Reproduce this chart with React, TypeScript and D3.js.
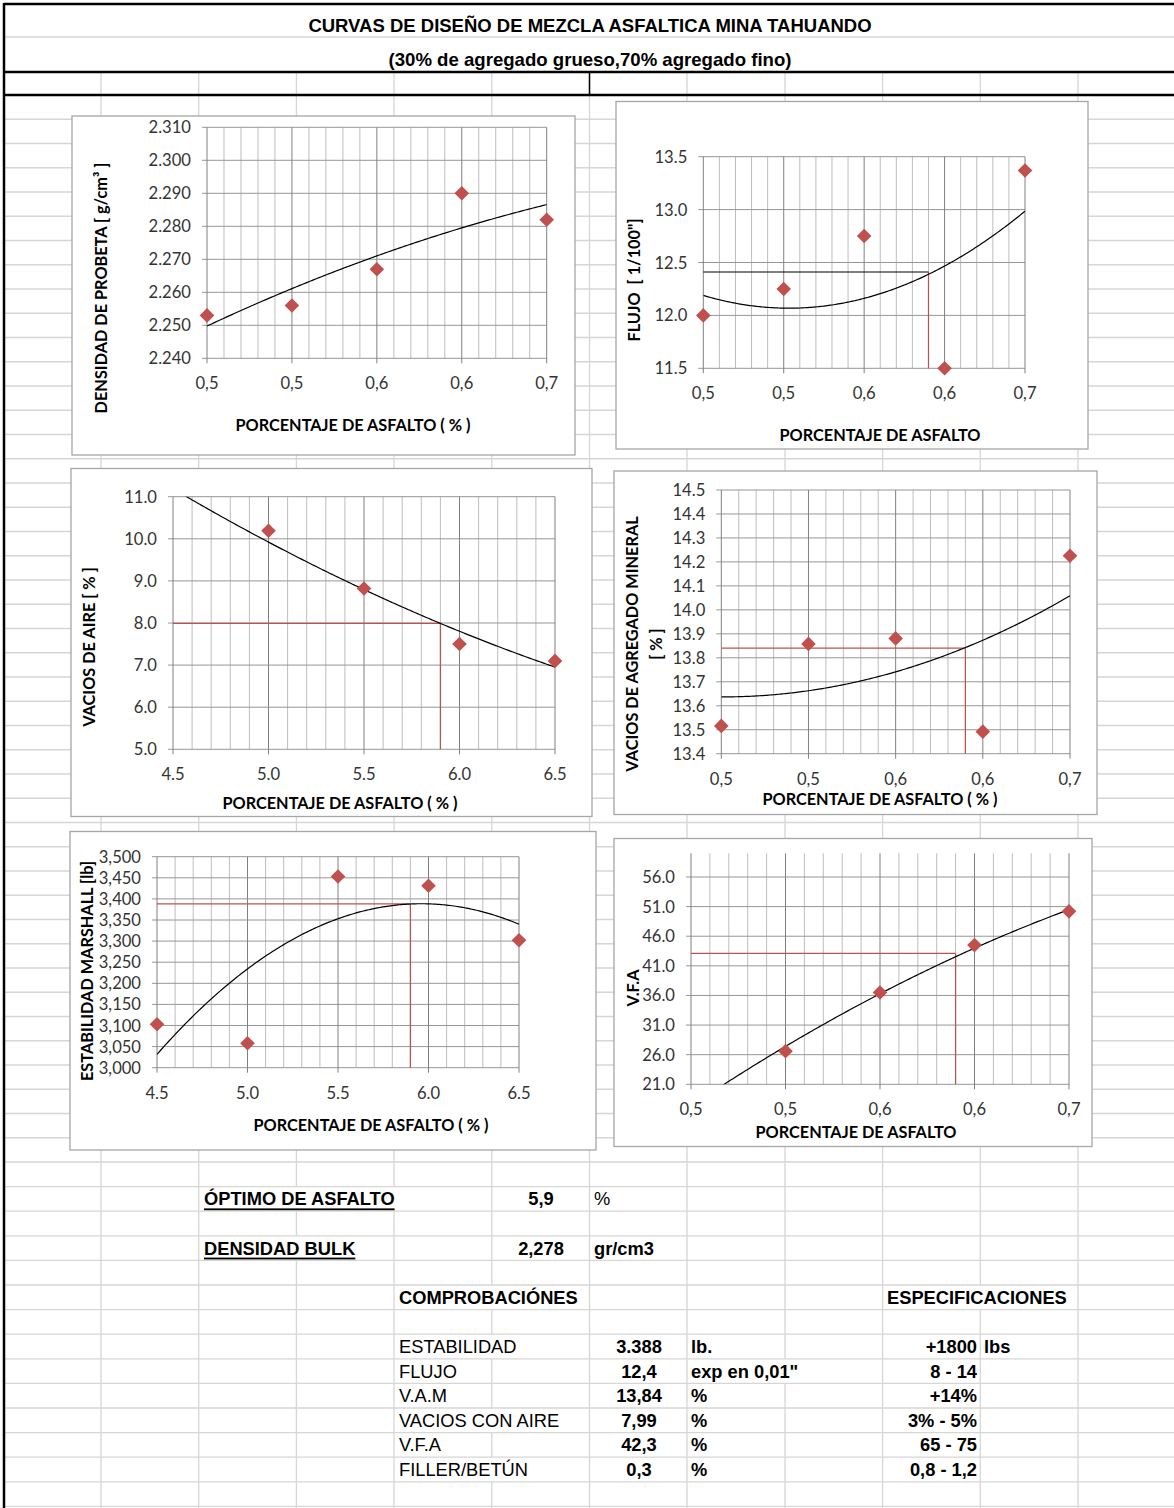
import React from "react";
import * as d3 from "d3";

// ---------- datos ----------
const asfalto = [4.5, 5.0, 5.5, 6.0, 6.5];
const asfaltoFrac = [0.45, 0.5, 0.55, 0.6, 0.65];
const asfaltoTickLabels = ["4.5", "5.0", "5.5", "6.0", "6.5"];
const fracTickLabels = ["0,5", "0,5", "0,6", "0,6", "0,7"];

const densidad = [2.253, 2.256, 2.267, 2.29, 2.282];
const flujo = [12.0, 12.25, 12.75, 11.5, 13.37];
const vaciosAire = [11.05, 10.19, 8.82, 7.5, 7.1]; // primer punto queda fuera del eje
const vam = [13.516, 13.858, 13.881, 13.492, 14.226];
const estabilidad = [3103, 3058, 3453, 3431, 3302];
const vfa = [17.7, 26.6, 36.5, 44.5, 50.2]; // primer punto queda fuera del eje

const densidadTicks = [2.24, 2.25, 2.26, 2.27, 2.28, 2.29, 2.3, 2.31];
const flujoTicks = [11.5, 12.0, 12.5, 13.0, 13.5];
const vaciosTicks = [5, 6, 7, 8, 9, 10, 11];
const vamTicks = [13.4, 13.5, 13.6, 13.7, 13.8, 13.9, 14.0, 14.1, 14.2, 14.3, 14.4, 14.5];
const estabilidadTicks = [3000, 3050, 3100, 3150, 3200, 3250, 3300, 3350, 3400, 3450, 3500];
const vfaTicks = [21, 26, 31, 36, 41, 46, 51, 56];

const optimo = 5.9;
const optimoFrac = 0.59;
const flujoOpt = 12.41;
const vaciosOpt = 7.99;
const vamOpt = 13.84;
const estabilidadOpt = 3388;
const vfaOpt = 43.1;

const compLabels = ["ESTABILIDAD", "FLUJO", "V.A.M", "VACIOS CON AIRE", "V.F.A", "FILLER/BETÚN"];
const compValues = ["3.388", "12,4", "13,84", "7,99", "42,3", "0,3"];
const compUnits = ["lb.", 'exp en 0,01"', "%", "%", "%", "%"];
const specValues = ["+1800", "8 - 14", "+14%", "3% - 5%", "65 - 75", "0,8 - 1,2"];

// ---------- utilidades ----------
const RED = "#C0504D";
const chartFont = "Lato, 'Open Sans', sans-serif";
const sheetFont = "'Liberation Sans', Arial, sans-serif";

// tendencia polinomica de orden 2 (minimos cuadrados), como la de Excel
function quadFit(xs: number[], ys: number[]) {
  const m = d3.mean(xs) as number;
  const u = xs.map((x) => x - m);
  const s = (k: number) => d3.sum(u, (v) => v ** k);
  const t = (k: number) => d3.sum(u, (v, i) => v ** k * ys[i]);
  const A = [
    [xs.length, s(1), s(2), t(0)],
    [s(1), s(2), s(3), t(1)],
    [s(2), s(3), s(4), t(2)],
  ];
  for (let i = 0; i < 3; i++) {
    for (let j = i + 1; j < 3; j++) {
      const f = A[j][i] / A[i][i];
      for (let k = i; k < 4; k++) A[j][k] -= f * A[i][k];
    }
  }
  const c = [0, 0, 0];
  for (let i = 2; i >= 0; i--) {
    let v = A[i][3];
    for (let k = i + 1; k < 3; k++) v -= A[i][k] * c[k];
    c[i] = v / A[i][i];
  }
  return (x: number) => c[0] + c[1] * (x - m) + c[2] * (x - m) ** 2;
}

type ChartSpec = {
  id: string;
  box: [number, number, number, number];
  plot: [number, number, number, number];
  xs: number[];
  xTickLabels: string[];
  ys: number[];
  yDomain: [number, number];
  yTicks: number[];
  yFormat: (v: number) => string;
  yTitle: string[];
  yTitleAt: [number, number];
  xTitle: string;
  xTitleAt: [number, number];
  opt?: { x: number; y: number; hColor: string };
};

function Chart({ spec }: { spec: ChartSpec }) {
  const [bx0, by0, bx1, by1] = spec.box;
  const [left, top, right, bottom] = spec.plot;
  const x = d3.scaleLinear().domain([spec.xs[0], spec.xs[spec.xs.length - 1]]).range([left, right]);
  const y = d3.scaleLinear().domain(spec.yDomain).range([bottom, top]);
  const step = (spec.xs[1] - spec.xs[0]) / 5;
  const subs = d3.range(0, (spec.xs.length - 1) * 5 + 1);
  const fit = quadFit(spec.xs, spec.ys);
  const curveX = d3.range(0, 201).map((i) => x.invert(left + ((right - left) * i) / 200));
  const line = d3
    .line<number>()
    .x((d) => x(d))
    .y((d) => y(fit(d)));
  const pts = spec.xs
    .map((xv, i) => ({ xv, yv: spec.ys[i] }))
    .filter((p) => p.yv >= spec.yDomain[0] && p.yv <= spec.yDomain[1]);

  return (
    <g>
      <rect x={bx0} y={by0} width={bx1 - bx0} height={by1 - by0} fill="#fff" stroke="#a6a6a6" strokeWidth={1.3} />
      <clipPath id={"clip-" + spec.id}>
        <rect x={left} y={top} width={right - left} height={bottom - top} />
      </clipPath>
      {/* rejilla menor */}
      {subs
        .filter((k) => k % 5 !== 0)
        .map((k) => (
          <line key={"m" + k} x1={x(spec.xs[0] + k * step)} x2={x(spec.xs[0] + k * step)} y1={top} y2={bottom} stroke="#bdbdbd" />
        ))}
      {spec.yTicks.map((t) => (
        <line key={"h" + t} x1={left - 5} x2={right} y1={y(t)} y2={y(t)} stroke="#969696" />
      ))}
      {spec.xs.map((xv) => (
        <line key={"v" + xv} x1={x(xv)} x2={x(xv)} y1={top} y2={bottom + 5} stroke="#808080" />
      ))}
      {/* etiquetas */}
      {spec.yTicks.map((t) => (
        <text key={"yt" + t} x={left - 16} y={y(t)} textAnchor="end" dominantBaseline="central" fontSize={16.6} fill="#333">
          {spec.yFormat(t)}
        </text>
      ))}
      {spec.xs.map((xv, i) => (
        <text key={"xt" + i} x={x(xv)} y={bottom + 25} textAnchor="middle" dominantBaseline="central" fontSize={16.6} fill="#333">
          {spec.xTickLabels[i]}
        </text>
      ))}
      {/* lineas del optimo */}
      {spec.opt && (
        <g>
          <line x1={x(spec.opt.x)} x2={x(spec.opt.x)} y1={y(spec.opt.y)} y2={bottom} stroke={RED} strokeWidth={1.2} />
          <line x1={left} x2={x(spec.opt.x)} y1={y(spec.opt.y)} y2={y(spec.opt.y)} stroke={spec.opt.hColor} strokeWidth={1.2} />
        </g>
      )}
      <path d={line(curveX) || ""} fill="none" stroke="#000" strokeWidth={1.2} clipPath={`url(#clip-${spec.id})`} />
      {pts.map((p, i) => (
        <path key={"p" + i} transform={`translate(${x(p.xv)},${y(p.yv)})`} d="M0,-7.3L7.3,0L0,7.3L-7.3,0Z" fill={RED} />
      ))}
      {spec.yTitle.map((ln, i) => (
        <text
          key={"ytl" + i}
          transform={`translate(${spec.yTitleAt[0] + i * 24},${spec.yTitleAt[1]}) rotate(-90)`}
          textAnchor="middle"
          dominantBaseline="central"
          fontSize={16.3}
          fontWeight="bold"
          style={{ whiteSpace: "pre" }}
        >
          {ln}
        </text>
      ))}
      <text x={spec.xTitleAt[0]} y={spec.xTitleAt[1]} textAnchor="middle" dominantBaseline="central" fontSize={16.3} fontWeight="bold">
        {spec.xTitle}
      </text>
    </g>
  );
}

const f1 = d3.format(".1f");

const charts: ChartSpec[] = [
  {
    id: "dens",
    box: [72, 116, 575, 455],
    plot: [207, 127.3, 546.7, 358.3],
    xs: asfaltoFrac,
    xTickLabels: fracTickLabels,
    ys: densidad,
    yDomain: [2.24, 2.31],
    yTicks: densidadTicks,
    yFormat: d3.format(".3f"),
    yTitle: ["DENSIDAD DE PROBETA [ g/cm³ ]"],
    yTitleAt: [100, 288],
    xTitle: "PORCENTAJE DE ASFALTO ( % )",
    xTitleAt: [353, 424],
  },
  {
    id: "flujo",
    box: [616, 101.5, 1088, 449],
    plot: [703.3, 156.7, 1025, 368.3],
    xs: asfaltoFrac,
    xTickLabels: fracTickLabels,
    ys: flujo,
    yDomain: [11.5, 13.5],
    yTicks: flujoTicks,
    yFormat: f1,
    yTitle: ['FLUJO  [ 1/100"]'],
    yTitleAt: [633, 280],
    xTitle: "PORCENTAJE DE ASFALTO",
    xTitleAt: [880, 434],
    opt: { x: optimoFrac, y: flujoOpt, hColor: "#000" },
  },
  {
    id: "vacios",
    box: [71, 468.5, 592, 816.5],
    plot: [173, 496.7, 555, 749.3],
    xs: asfalto,
    xTickLabels: asfaltoTickLabels,
    ys: vaciosAire,
    yDomain: [5, 11],
    yTicks: vaciosTicks,
    yFormat: f1,
    yTitle: ["VACIOS DE AIRE [ % ]"],
    yTitleAt: [88, 647],
    xTitle: "PORCENTAJE DE ASFALTO ( % )",
    xTitleAt: [340, 802],
    opt: { x: optimo, y: vaciosOpt, hColor: RED },
  },
  {
    id: "vam",
    box: [614, 471, 1097, 814.5],
    plot: [721.3, 490, 1070, 753.7],
    xs: asfaltoFrac,
    xTickLabels: fracTickLabels,
    ys: vam,
    yDomain: [13.4, 14.5],
    yTicks: vamTicks,
    yFormat: f1,
    yTitle: ["VACIOS DE AGREGADO MINERAL", "[ % ]"],
    yTitleAt: [631, 644],
    xTitle: "PORCENTAJE DE ASFALTO ( % )",
    xTitleAt: [880, 798],
    opt: { x: optimoFrac, y: vamOpt, hColor: RED },
  },
  {
    id: "estab",
    box: [70, 831.5, 596, 1150],
    plot: [157, 856.7, 519, 1067.7],
    xs: asfalto,
    xTickLabels: asfaltoTickLabels,
    ys: estabilidad,
    yDomain: [3000, 3500],
    yTicks: estabilidadTicks,
    yFormat: d3.format(","),
    yTitle: ["ESTABILIDAD MARSHALL [lb]"],
    yTitleAt: [86, 971],
    xTitle: "PORCENTAJE DE ASFALTO ( % )",
    xTitleAt: [371, 1124],
    opt: { x: optimo, y: estabilidadOpt, hColor: RED },
  },
  {
    id: "vfa",
    box: [614, 838.5, 1092, 1146.5],
    plot: [691, 853.3, 1069, 1084.3],
    xs: asfaltoFrac,
    xTickLabels: fracTickLabels,
    ys: vfa,
    yDomain: [21, 60],
    yTicks: vfaTicks,
    yFormat: f1,
    yTitle: ["V.F.A"],
    yTitleAt: [632, 988],
    xTitle: "PORCENTAJE DE ASFALTO",
    xTitleAt: [856, 1131],
    opt: { x: optimoFrac, y: vfaOpt, hColor: RED },
  },
];

// ---------- hoja de calculo ----------
const W = 1174;
const H = 1508;
const cols = [4, 101, 198.7, 296.4, 394, 491.8, 589.5, 687, 785, 882.6, 980.3, 1078];
const upperRows = d3.range(0, 45).map((i) => 95 + i * 24.25);
const lowerRows = d3.range(1, 15).map((i) => 1162 + i * 24.6);
const rowLines = [...upperRows, ...lowerRows];
// filas inferiores en las que el texto tapa una linea vertical (indice de fila -> indices de columna)
const hiddenCols: Record<number, number[]> = { 1: [3, 4], 3: [3], 5: [5, 10], 7: [5], 8: [8], 10: [5], 12: [5] };
const lowerBands = [1162, ...lowerRows];
const rowMid = (i: number) => (lowerBands[i] + lowerBands[i + 1]) / 2;

export default function App() {
  return (
    <svg width={W} height={H} style={{ position: "absolute", left: 0, top: 0, background: "#fff" }} fontFamily={chartFont}>
      {/* rejilla de la hoja */}
      <g stroke="#d6d6d6" strokeWidth={1.3}>
        <line x1={4} x2={W} y1={37} y2={37} />
        {rowLines.map((yv, i) => (
          <line key={"r" + i} x1={4} x2={W} y1={yv} y2={yv} />
        ))}
        {cols.slice(1).map((cx, ci) => (
          <g key={"c" + ci}>
            <line x1={cx} x2={cx} y1={72} y2={1162} />
            {lowerBands.slice(0, -1).map((yv, ri) =>
              (hiddenCols[ri] || []).includes(ci + 1) ? null : (
                <line key={ri} x1={cx} x2={cx} y1={yv} y2={lowerBands[ri + 1] || H} />
              )
            )}
            <line x1={cx} x2={cx} y1={lowerBands[lowerBands.length - 1]} y2={H} />
          </g>
        ))}
      </g>
      <g stroke="#000">
        <line x1={4} x2={W} y1={4} y2={4} strokeWidth={2.5} />
        <line x1={4} x2={W} y1={72} y2={72} strokeWidth={2.5} />
        <line x1={4} x2={W} y1={95} y2={95} strokeWidth={2.5} />
        <line x1={4} x2={4} y1={3} y2={H} strokeWidth={2.5} />
        <line x1={589.5} x2={589.5} y1={72} y2={95} strokeWidth={1.5} />
      </g>
      <g fontFamily={sheetFont} fontWeight="bold" textAnchor="middle">
        <text x={590} y={25} dominantBaseline="central" fontSize={18.5}>
          CURVAS DE DISEÑO DE MEZCLA ASFALTICA MINA TAHUANDO
        </text>
        <text x={590} y={59} dominantBaseline="central" fontSize={18.6}>
          (30% de agregado grueso,70% agregado fino)
        </text>
      </g>

      {charts.map((c) => (
        <Chart key={c.id} spec={c} />
      ))}

      {/* resultados */}
      <g fontFamily={sheetFont} fontSize={18.3} dominantBaseline="central">
        <text x={204} y={rowMid(1)} fontWeight="bold" style={{ textDecoration: "underline" }}>
          ÓPTIMO DE ASFALTO
        </text>
        <text x={541} y={rowMid(1)} fontWeight="bold" textAnchor="middle">
          5,9
        </text>
        <text x={594} y={rowMid(1)}>%</text>
        <text x={204} y={rowMid(3)} fontWeight="bold" style={{ textDecoration: "underline" }}>
          DENSIDAD BULK
        </text>
        <text x={541} y={rowMid(3)} fontWeight="bold" textAnchor="middle">
          2,278
        </text>
        <text x={594} y={rowMid(3)} fontWeight="bold">
          gr/cm3
        </text>
        <text x={399} y={rowMid(5)} fontWeight="bold">
          COMPROBACIÓNES
        </text>
        <text x={887} y={rowMid(5)} fontWeight="bold">
          ESPECIFICACIONES
        </text>
        {compLabels.map((lab, i) => (
          <g key={lab}>
            <text x={399} y={rowMid(7 + i)}>
              {lab}
            </text>
            <text x={639} y={rowMid(7 + i)} fontWeight="bold" textAnchor="middle">
              {compValues[i]}
            </text>
            <text x={691} y={rowMid(7 + i)} fontWeight="bold">
              {compUnits[i]}
            </text>
            <text x={977} y={rowMid(7 + i)} fontWeight="bold" textAnchor="end">
              {specValues[i]}
            </text>
          </g>
        ))}
        <text x={984} y={rowMid(7)} fontWeight="bold">
          lbs
        </text>
      </g>
    </svg>
  );
}
